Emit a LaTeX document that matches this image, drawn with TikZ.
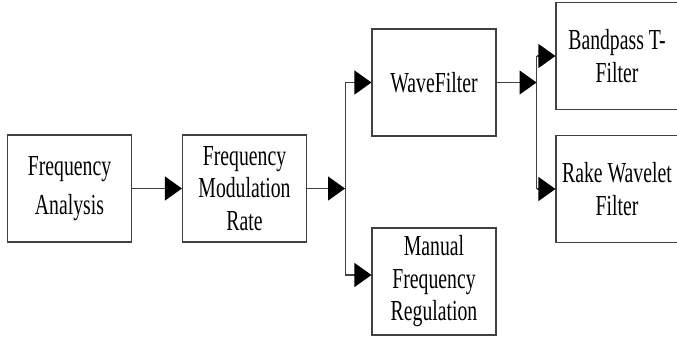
\documentclass[tikz,border=0pt]{standalone}
\usepackage{fontspec}
\newfontfamily\cfont[FakeStretch=0.68]{Liberation Serif}
\usetikzlibrary{arrows.meta,calc}
\begin{document}
\begin{tikzpicture}[x=1pt,y=-1pt,
 box/.style={draw=black!75,line width=1.1pt,minimum width=124pt,minimum height=107pt,inner sep=0pt,align=center,font=\cfont\fontsize{29}{32.5}\selectfont},
 conn/.style={draw=black!75,line width=1.1pt},
 arr/.style={conn,-{Triangle[length=17pt,width=24pt,color=black]}}]
\useasboundingbox (0,0) rectangle (677,340);
\clip (0,0) rectangle (677,340);
\node[box] (fa) at (69.5,188.5) {Frequency\\[6.5pt]Analysis};
\node[box] (fmr) at (244.5,188.5) {Frequency\\Modulation\\Rate};
\node[box] (wf) at (434,82.5) {WaveFilter};
\node[box] (man) at (434,281.5) {Manual\\Frequency\\Regulation};
\node[box,minimum width=122pt] (bp) at (617,56) {Bandpass T-\\Filter};
\node[box,minimum width=122pt] (rw) at (617,189) {Rake Wavelet\\Filter};
\coordinate (j1) at ($(fmr.east)+(38,0)$);
\coordinate (mi) at ($(man.west)+(0,-6.5)$);
\coordinate (j2) at ($(wf.east)+(40,0)$);
\draw[arr] (fa.east) -- (fmr.west);
\draw[arr] (fmr.east) -- (j1);
\draw[conn] (j1 |- wf.west) -- (j1 |- mi);
\draw[arr] (j1 |- wf.west) -- (wf.west);
\draw[arr] (j1 |- mi) -- (mi);
\draw[arr] (wf.east) -- (j2);
\draw[conn] (j2 |- bp.west) -- (j2 |- rw.west);
\draw[arr] (j2 |- bp.west) -- (bp.west);
\draw[arr] (j2 |- rw.west) -- (rw.west);
\end{tikzpicture}
\end{document}
